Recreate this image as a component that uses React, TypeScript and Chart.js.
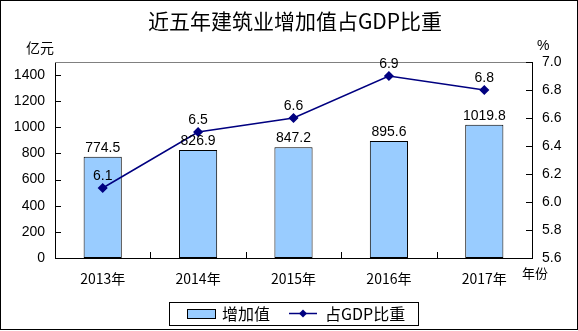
import React, { useEffect, useRef } from "react";
import { Chart, registerables } from "chart.js";

Chart.register(...registerables);

const categories = ["2013年", "2014年", "2015年", "2016年", "2017年"];
const addedValue = [774.5, 826.9, 847.2, 895.6, 1019.8];
const gdpShare = [6.1, 6.5, 6.6, 6.9, 6.8];
const leftTicks = [0, 200, 400, 600, 800, 1000, 1200, 1400];
const rightTicks = [5.6, 5.8, 6.0, 6.2, 6.4, 6.6, 6.8, 7.0];
const titleText = "近五年建筑业增加值占GDP比重";
const leftUnit = "亿元";
const rightUnit = "%";
const xUnit = "年份";
const barLegend = "增加值";
const lineLegend = "占GDP比重";

const NAVY = "#000080";
const BAR_FILL = "#99CCFF";
const LATIN = '"Liberation Sans", Arial, sans-serif';
const CJK = '"Noto Sans CJK SC", "Liberation Sans", sans-serif';

const decorPlugin = {
  id: "decor",
  afterDatasetsDraw(chart: any) {
    const ctx = chart.ctx;
    const area = chart.chartArea;
    const yL = chart.scales.yL;
    const yR = chart.scales.yR;
    ctx.save();
    // top border of plot area
    ctx.strokeStyle = "#808080";
    ctx.lineWidth = 1;
    ctx.beginPath();
    ctx.moveTo(area.left, area.top + 0.5);
    ctx.lineTo(area.right, area.top + 0.5);
    ctx.stroke();
    // inward ticks
    ctx.strokeStyle = "#000";
    ctx.beginPath();
    yL.ticks.forEach((t: any) => {
      const py = Math.round(yL.getPixelForValue(t.value)) + 0.5;
      ctx.moveTo(area.left, py);
      ctx.lineTo(area.left + 6, py);
    });
    yR.ticks.forEach((t: any) => {
      const py = Math.round(yR.getPixelForValue(t.value)) + 0.5;
      ctx.moveTo(area.right, py);
      ctx.lineTo(area.right - 6, py);
    });
    const n = categories.length;
    const step = (area.right - area.left) / n;
    for (let i = 1; i < n; i++) {
      const px = Math.round(area.left + step * i) + 0.5;
      ctx.moveTo(px, area.bottom);
      ctx.lineTo(px, area.bottom - 6);
    }
    ctx.stroke();

    // data labels
    ctx.fillStyle = "#000";
    ctx.font = `14px ${LATIN}`;
    ctx.textAlign = "center";
    ctx.textBaseline = "alphabetic";
    const barMeta = chart.getDatasetMeta(0);
    barMeta.data.forEach((el: any, i: number) => {
      ctx.fillText(addedValue[i].toFixed(1), el.x, el.y - 5);
    });
    const lineMeta = chart.getDatasetMeta(1);
    lineMeta.data.forEach((el: any, i: number) => {
      ctx.fillText(gdpShare[i].toFixed(1), el.x, el.y - 8);
    });

    // title and units
    ctx.font = `21px ${CJK}`;
    ctx.textBaseline = "middle";
    ctx.fillText(titleText, 295, 21);
    ctx.font = `14px ${CJK}`;
    ctx.textAlign = "left";
    ctx.fillText(leftUnit, 26, 48);
    ctx.font = `14px ${LATIN}`;
    ctx.fillText(rightUnit, 537, 46);
    ctx.font = `13px ${CJK}`;
    ctx.fillText(xUnit, 522, 273);

    // legend
    ctx.strokeStyle = "#000";
    ctx.lineWidth = 1;
    ctx.strokeRect(169.5, 302.5, 249, 23);
    ctx.fillStyle = BAR_FILL;
    ctx.fillRect(187, 309, 28, 9);
    ctx.strokeRect(187.5, 309.5, 28, 9);
    ctx.fillStyle = "#000";
    ctx.font = `16px ${CJK}`;
    ctx.fillText(barLegend, 222, 314);
    ctx.strokeStyle = NAVY;
    ctx.lineWidth = 1.5;
    ctx.beginPath();
    ctx.moveTo(289, 313.5);
    ctx.lineTo(317, 313.5);
    ctx.stroke();
    ctx.fillStyle = NAVY;
    ctx.beginPath();
    ctx.moveTo(303, 309.5);
    ctx.lineTo(307, 313.5);
    ctx.lineTo(303, 317.5);
    ctx.lineTo(299, 313.5);
    ctx.closePath();
    ctx.fill();
    ctx.fillStyle = "#000";
    ctx.fillText(lineLegend, 325, 314);

    // outer frame
    ctx.strokeStyle = "#000";
    ctx.lineWidth = 1;
    ctx.strokeRect(0.5, 0.5, 577, 329);
    ctx.restore();
  },
};

export default function App() {
  const ref = useRef<HTMLCanvasElement | null>(null);
  useEffect(() => {
    if (!ref.current) return;
    const chart = new Chart(ref.current, {
      type: "bar",
      data: {
        labels: categories,
        datasets: [
          {
            type: "bar",
            label: barLegend,
            data: addedValue,
            backgroundColor: BAR_FILL,
            borderColor: "#000",
            borderWidth: 1,
            borderSkipped: false,
            categoryPercentage: 1,
            barPercentage: 0.4,
            yAxisID: "yL",
            order: 1,
          } as any,
          {
            type: "line",
            label: lineLegend,
            data: gdpShare,
            borderColor: NAVY,
            backgroundColor: NAVY,
            borderWidth: 1.5,
            pointStyle: "rectRot",
            pointRadius: 4,
            pointBackgroundColor: NAVY,
            pointBorderColor: NAVY,
            yAxisID: "yR",
            order: 0,
          } as any,
        ],
      },
      options: {
        animation: false,
        responsive: false,
        maintainAspectRatio: false,
        devicePixelRatio: 1,
        layout: { padding: { top: 62, left: 0, right: 0, bottom: 0 } },
        plugins: { legend: { display: false }, tooltip: { enabled: false }, title: { display: false } },
        scales: {
          x: {
            type: "category",
            offset: true,
            grid: { display: false, drawTicks: false },
            border: { display: true, color: "#000", width: 1 },
            ticks: { color: "#000", font: { family: CJK, size: 14 }, padding: 12, maxRotation: 0, autoSkip: false },
            afterFit: (s: any) => { s.height = 73; },
          },
          yL: {
            type: "linear",
            position: "left",
            min: 0,
            max: 1500,
            grid: { display: false, drawTicks: false },
            border: { display: true, color: "#000", width: 1 },
            ticks: {
              autoSkip: false,
              color: "#000",
              font: { family: LATIN, size: 14 },
              padding: 10,
              callback: (v: any) => String(Math.round(Number(v))),
            },
            afterBuildTicks: (s: any) => { s.ticks = leftTicks.map((v) => ({ value: v })); },
            afterFit: (s: any) => { s.width = 55; },
          },
          yR: {
            type: "linear",
            position: "right",
            min: 5.6,
            max: 7.0,
            grid: { display: false, drawTicks: false },
            border: { display: true, color: "#000", width: 1 },
            ticks: {
              autoSkip: false,
              color: "#000",
              font: { family: LATIN, size: 14 },
              padding: 10,
              callback: (v: any) => Number(v).toFixed(1),
            },
            afterBuildTicks: (s: any) => { s.ticks = rightTicks.map((v) => ({ value: v })); },
            afterFit: (s: any) => { s.width = 46; },
          },
        },
      } as any,
      plugins: [decorPlugin],
    });
    return () => chart.destroy();
  }, []);
  return (
    <div style={{ position: "fixed", left: 0, top: 0, width: 578, height: 331, background: "#fff" }}>
      <canvas ref={ref} width={578} height={331} style={{ display: "block", width: 578, height: 331 }} />
    </div>
  );
}
